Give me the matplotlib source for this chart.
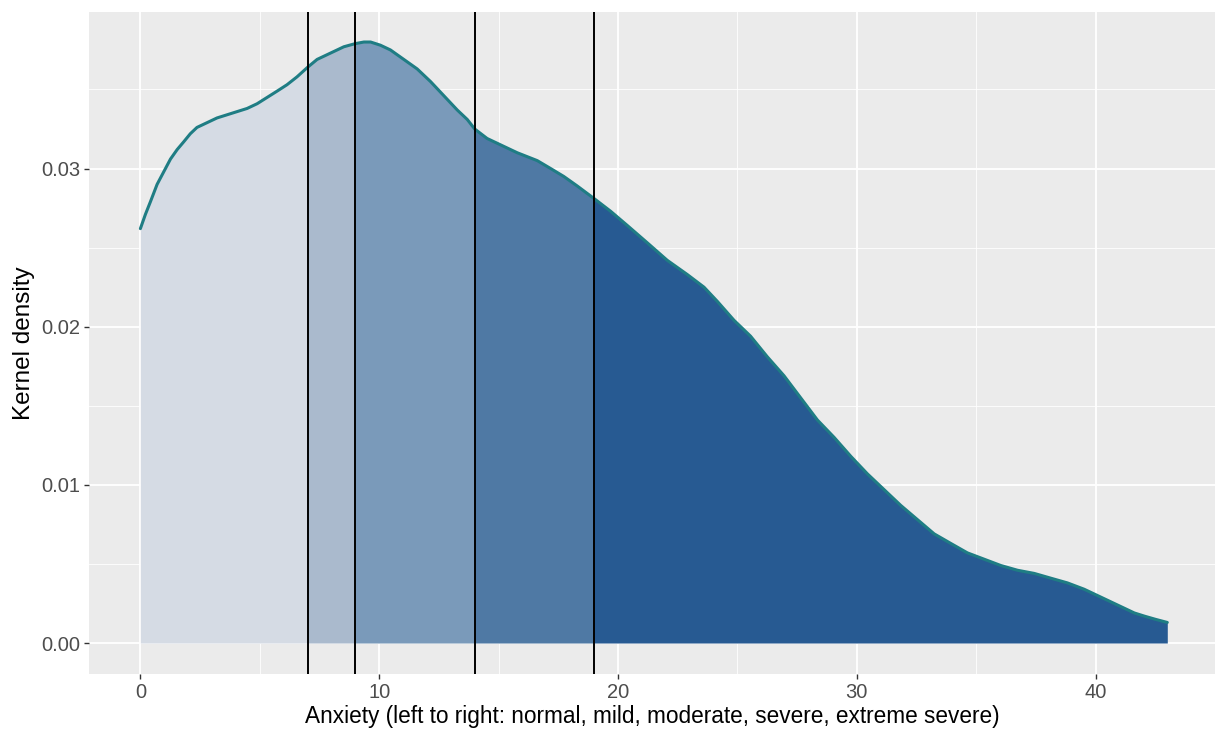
import numpy as np
import matplotlib
matplotlib.use("Agg")
import matplotlib.pyplot as plt
from matplotlib.ticker import MultipleLocator, FormatStrFormatter

plt.rcParams["font.family"] = ["Liberation Sans", "DejaVu Sans"]

# kernel density curve
anxiety = [0, 0.21, 0.42, 0.70, 0.98, 1.26, 1.54, 1.82, 2.09, 2.37, 2.79, 3.21, 3.63,
           4.05, 4.47, 4.89, 5.31, 5.73, 6.14, 6.56, 7.0, 7.40, 7.96, 8.52, 9.0, 9.36,
           9.64, 10.05, 10.47, 11.03, 11.59, 12.15, 12.71, 13.27, 13.69, 14.0, 14.52,
           15.08, 15.78, 16.62, 17.18, 17.73, 18.29, 19.0, 19.69, 20.39, 21.23, 22.06,
           22.90, 23.60, 24.16, 24.86, 25.55, 26.25, 26.95, 27.65, 28.35, 29.05, 29.75,
           30.44, 31.14, 31.84, 32.54, 33.24, 33.93, 34.63, 35.33, 36.03, 36.73, 37.43,
           38.12, 38.82, 39.52, 40.22, 40.92, 41.62, 42.04, 42.5, 43.0]
density = [0.0262, 0.0271, 0.0279, 0.0290, 0.0298, 0.0306, 0.0312, 0.0317, 0.0322,
           0.0326, 0.0329, 0.0332, 0.0334, 0.0336, 0.0338, 0.0341, 0.0345, 0.0349,
           0.0353, 0.0358, 0.0364, 0.0369, 0.0373, 0.0377, 0.0379, 0.0380, 0.0380,
           0.0378, 0.0375, 0.0369, 0.0363, 0.0355, 0.0346, 0.0337, 0.0331, 0.0325,
           0.0319, 0.0315, 0.0310, 0.0305, 0.0300, 0.0295, 0.0289, 0.0281, 0.0273,
           0.0264, 0.0253, 0.0242, 0.0233, 0.0225, 0.0216, 0.0204, 0.0194, 0.0181,
           0.0169, 0.0155, 0.0141, 0.0130, 0.0118, 0.0107, 0.0097, 0.0087, 0.0078,
           0.0069, 0.0063, 0.0057, 0.0053, 0.0049, 0.0046, 0.0044, 0.0041, 0.0038,
           0.0034, 0.0029, 0.0024, 0.0019, 0.0017, 0.0015, 0.0013]

# category cut points: normal | mild | moderate | severe | extreme severe
cutoffs = [7, 9, 14, 19]
band_colors = ["#d5dbe4", "#aabacd", "#7a9aba", "#4f79a4", "#275a92"]

x = np.array(anxiety)
y = np.array(density)

fig = plt.figure(figsize=(12.23, 7.30), dpi=100)
ax = fig.add_axes([0.0728, 0.0767, 0.9207, 0.9069])
ax.set_facecolor("#ebebeb")

# shaded bands between cutoffs
edges = [x.min()] + cutoffs + [x.max()]
for lo, hi, col in zip(edges[:-1], edges[1:], band_colors):
    m = (x >= lo) & (x <= hi)
    ax.fill_between(x[m], 0, y[m], color=col, lw=0, zorder=2)

ax.plot(x, y, color="#1f7d84", lw=2.2, zorder=4, solid_capstyle="round")

for c in cutoffs:
    ax.axvline(c, color="black", lw=1.4, zorder=5)

ax.set_xlim(-2.15, 45.0)
ax.set_ylim(-0.00196, 0.0399)
ax.xaxis.set_major_locator(MultipleLocator(10))
ax.xaxis.set_minor_locator(MultipleLocator(5))
ax.yaxis.set_major_locator(MultipleLocator(0.01))
ax.yaxis.set_minor_locator(MultipleLocator(0.005))
ax.yaxis.set_major_formatter(FormatStrFormatter("%.2f"))

ax.grid(which="major", color="white", lw=1.3, zorder=1)
ax.grid(which="minor", color="white", lw=0.6, zorder=1)
ax.set_axisbelow(True)
for s in ax.spines.values():
    s.set_visible(False)

ax.tick_params(which="major", length=3.5, width=1.0, color="#333333",
               labelsize=14.5, labelcolor="#4d4d4d", pad=3)
ax.tick_params(which="minor", length=0)

ax.set_xlabel("Anxiety (left to right: normal, mild, moderate, severe, extreme severe)",
              fontsize=16.3, color="black", labelpad=2)
ax.set_ylabel("Kernel density", fontsize=17.5, color="black", labelpad=4)

fig.savefig("out.png", dpi=100)
